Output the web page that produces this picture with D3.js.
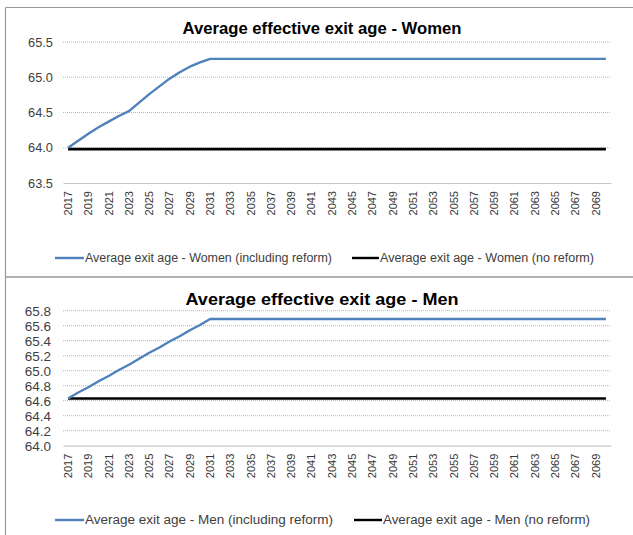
<!DOCTYPE html>
<html>
<head>
<meta charset="utf-8">
<script src="https://cdn.jsdelivr.net/npm/d3@7"></script>
<style>
  html, body { margin: 0; padding: 0; background: #fff; }
  svg { display: block; }
</style>
</head>
<body>
<svg id="chart" width="633" height="535"></svg>
<script>
// Years on the category axis
const years = d3.range(2017, 2071);

// Women: average effective exit age with the reform, 2017–2031, then flat
const womenReformRamp = [64.00, 64.10, 64.20, 64.29, 64.37, 64.45, 64.52, 64.64, 64.76, 64.87, 64.98, 65.07, 65.15, 65.21, 65.26];
const womenReformPlateau = 65.26;
const womenNoReform = 63.98;

// Men: average effective exit age with the reform, 2017–2031, then flat
const menReformRamp = [64.63, 64.71, 64.78, 64.86, 64.93, 65.01, 65.08, 65.16, 65.24, 65.31, 65.39, 65.46, 65.54, 65.61, 65.69];
const menReformPlateau = 65.69;
const menNoReform = 64.63;

const womenTicks = [63.5, 64.0, 64.5, 65.0, 65.5];
const menTicks = [64.0, 64.2, 64.4, 64.6, 64.8, 65.0, 65.2, 65.4, 65.6, 65.8];

const tickYears = years.filter((y, i) => i % 2 === 0);

function fullSeries(ramp, plateau) {
  return years.map((y, i) => i < ramp.length ? ramp[i] : plateau);
}

const panels = [
  {
    title: "Average effective exit age - Women",
    titleWidth: 279, titleSize: 16.5,
    reform: fullSeries(womenReformRamp, womenReformPlateau),
    noReform: years.map(() => womenNoReform),
    ticks: womenTicks,
    domain: [63.5, 65.5],
    top: 42, bottom: 183, titleY: 28, legendY: 258,
    yLabelSize: 12.8, yLabelPad: 10,
    legend: ["Average exit age - Women (including reform)", "Average exit age - Women (no reform)"],
    legendLine: [[55, 84], [352, 379]],
    legendWidth: [247, 214]
  },
  {
    title: "Average effective exit age - Men",
    titleWidth: 273, titleSize: 16.5,
    reform: fullSeries(menReformRamp, menReformPlateau),
    noReform: years.map(() => menNoReform),
    ticks: menTicks,
    domain: [64.0, 65.8],
    top: 310.7, bottom: 445.7, titleY: 299, legendY: 520,
    yLabelSize: 13.5, yLabelPad: 12,
    legend: ["Average exit age - Men (including reform)", "Average exit age - Men (no reform)"],
    legendLine: [[55, 84], [354, 382]],
    legendWidth: [248, 207]
  }
];

const svg = d3.select("#chart");
const left = 63, right = 611;
const blue = "#4f81bd";
const font = "'Liberation Sans', Arial, sans-serif";

// chart frame
svg.append("line").attr("x1", 5.5).attr("x2", 633).attr("y1", 7.5).attr("y2", 7.5)
  .attr("stroke", "#9a9a9a").attr("stroke-width", 1.2);
svg.append("line").attr("x1", 5.5).attr("x2", 5.5).attr("y1", 7.5).attr("y2", 535)
  .attr("stroke", "#9a9a9a").attr("stroke-width", 1.2);
svg.append("line").attr("x1", 5.5).attr("x2", 633).attr("y1", 277).attr("y2", 277)
  .attr("stroke", "#9a9a9a").attr("stroke-width", 1.5);

panels.forEach(p => {
  const g = svg.append("g");
  const x = d3.scaleBand().domain(years).range([left, right]);
  const xc = d => x(d) + x.bandwidth() / 2;
  const y = d3.scaleLinear().domain(p.domain).range([p.bottom, p.top]);

  // dotted horizontal gridlines
  g.append("g").selectAll("line").data(p.ticks.slice(1)).join("line")
    .attr("x1", left).attr("x2", right)
    .attr("y1", d => y(d)).attr("y2", d => y(d))
    .attr("stroke", "#b8b8b8").attr("stroke-width", 1)
    .attr("stroke-dasharray", "1,1");

  // y axis labels
  const yAxis = d3.axisLeft(y).tickValues(p.ticks).tickFormat(d3.format(".1f"))
    .tickSize(0).tickPadding(p.yLabelPad);
  const ya = g.append("g").attr("transform", `translate(${left},0)`).call(yAxis);
  ya.select(".domain").remove();
  ya.selectAll("text").attr("font-family", font).attr("font-size", p.yLabelSize).attr("fill", "#404040");

  // x axis with rotated year labels
  const xAxis = d3.axisBottom(x).tickValues(tickYears).tickSize(0).tickPadding(0);
  const xa = g.append("g").attr("transform", `translate(0,${p.bottom})`).call(xAxis);
  xa.select(".domain").attr("stroke", "#c8c8c8").attr("stroke-width", 1.2);
  xa.selectAll("text")
    .attr("font-family", font).attr("font-size", 11).attr("fill", "#383838")
    .attr("transform", "rotate(-90)")
    .attr("text-anchor", "end")
    .attr("x", -8).attr("y", 0).attr("dy", "0.35em");

  const line = d3.line().x((d, i) => xc(years[i])).y(d => y(d));

  g.append("path").datum(p.noReform).attr("d", line)
    .attr("fill", "none").attr("stroke", "#000").attr("stroke-width", 2.6);
  g.append("path").datum(p.reform).attr("d", line)
    .attr("fill", "none").attr("stroke", blue).attr("stroke-width", 2.4)
    .attr("stroke-linejoin", "round");

  // title
  g.append("text").attr("x", 322).attr("y", p.titleY).attr("dy", "0.35em").attr("text-anchor", "middle")
    .attr("font-family", font).attr("font-weight", "bold").attr("font-size", p.titleSize)
    .attr("textLength", p.titleWidth).attr("lengthAdjust", "spacingAndGlyphs")
    .attr("fill", "#000").text(p.title);

  // legend
  const colors = [blue, "#000"];
  p.legend.forEach((label, i) => {
    const [x0, x1] = p.legendLine[i];
    g.append("line").attr("x1", x0).attr("x2", x1)
      .attr("y1", p.legendY).attr("y2", p.legendY)
      .attr("stroke", colors[i]).attr("stroke-width", 2.4);
    g.append("text").attr("x", x1 + 1).attr("y", p.legendY).attr("dy", "0.35em")
      .attr("font-family", font).attr("font-size", 12.5).attr("fill", "#404040")
      .attr("textLength", p.legendWidth[i]).attr("lengthAdjust", "spacingAndGlyphs")
      .text(label);
  });
});
</script>
</body>
</html>
